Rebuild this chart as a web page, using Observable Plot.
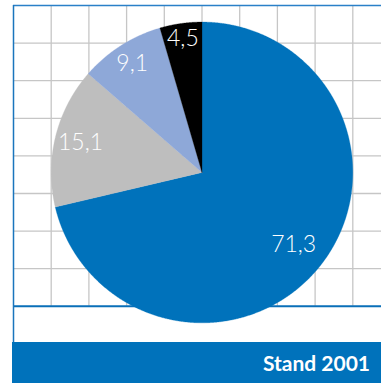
<!DOCTYPE html>
<html><head><meta charset="utf-8">
<script src="https://cdn.jsdelivr.net/npm/d3@7"></script>
<script src="https://cdn.jsdelivr.net/npm/@observablehq/plot@0.6"></script>
<style>
body{margin:0;background:#fff;}
#chart svg{display:block;}
#bar{margin-left:12px;width:369px;height:41px;background:#0072bb;color:#fff;font-family:Lato,"Open Sans",sans-serif;font-weight:bold;font-size:21px;text-align:right;line-height:41px;box-sizing:border-box;padding-right:11px;}
</style></head><body>
<div id="chart"></div>
<div id="bar"></div>
<script>
const categories = ["Anteil 1", "Anteil 2", "Anteil 3", "Anteil 4"];
const values = [71.3, 15.1, 9.1, 4.5];
const labels = ["71,3", "15,1", "9,1", "4,5"];
const colors = ["#0072bb", "#bebebe", "#8ea8d8", "#000000"];
const caption = "Stand 2001";

// layout (grid units; pie radius = 4 grid cells)
const R = 4;
const labelRadius = [0.775, 0.83, 0.86, 0.9];
const xDomain = [-5, 5], yDomain = [-3.56, 4.44];

const rows = categories.map((c, i) => ({cat: c, value: values[i], label: labels[i]}));
const arcs = d3.pie().sort(null).value(d => d.value)(rows);
const poly = [];
const labelPts = [];
arcs.forEach((a, i) => {
  const cat = a.data.cat;
  const n = Math.max(2, Math.ceil((a.endAngle - a.startAngle) / 0.005));
  poly.push({cat, x: 0, y: 0});
  for (let k = 0; k <= n; k++) {
    const t = a.startAngle + (a.endAngle - a.startAngle) * k / n;
    poly.push({cat, x: R * Math.sin(t), y: R * Math.cos(t)});
  }
  poly.push({cat, x: 0, y: 0});
  const m = (a.startAngle + a.endAngle) / 2;
  const r = R * labelRadius[i];
  labelPts.push({x: r * Math.sin(m), y: r * Math.cos(m), label: a.data.label});
});

const xGrid = d3.range(xDomain[0] + 1, xDomain[1]);
const yGrid = d3.range(1, 8).map(k => yDomain[0] + k);

const chart = Plot.plot({
  width: 381,
  height: 342,
  marginTop: 5, marginLeft: 13, marginRight: 0, marginBottom: 0,
  style: {background: "white", overflow: "visible"},
  x: {domain: xDomain, range: [13, 390], axis: null},
  y: {domain: yDomain, range: [305.8, 5], axis: null},
  color: {domain: categories, range: colors},
  marks: [
    Plot.ruleX(xGrid, {y1: yDomain[0], y2: yDomain[1], stroke: "#c6c6c6", strokeWidth: 1.3}),
    Plot.ruleY(yGrid, {stroke: "#c6c6c6", strokeWidth: 1.3}),
    Plot.ruleY([yDomain[1]], {stroke: "#2a80c8", strokeWidth: 1.5}),
    Plot.ruleY([yDomain[0]], {stroke: "#0a6fb8", strokeWidth: 2}),
    Plot.ruleX([xDomain[0]], {stroke: "#1a75bd", strokeWidth: 1.5}),
    Plot.line(poly, {x: "x", y: "y", z: "cat", fill: "cat", stroke: "cat", strokeWidth: 0.3}),
    Plot.text(labelPts, {x: "x", y: "y", text: "label", fill: "white", fontSize: 23, fontWeight: 300, fontFamily: "Lato, 'Open Sans', sans-serif"})
  ]
});
document.getElementById("chart").appendChild(chart);
document.getElementById("bar").textContent = caption;
</script>
</body></html>
